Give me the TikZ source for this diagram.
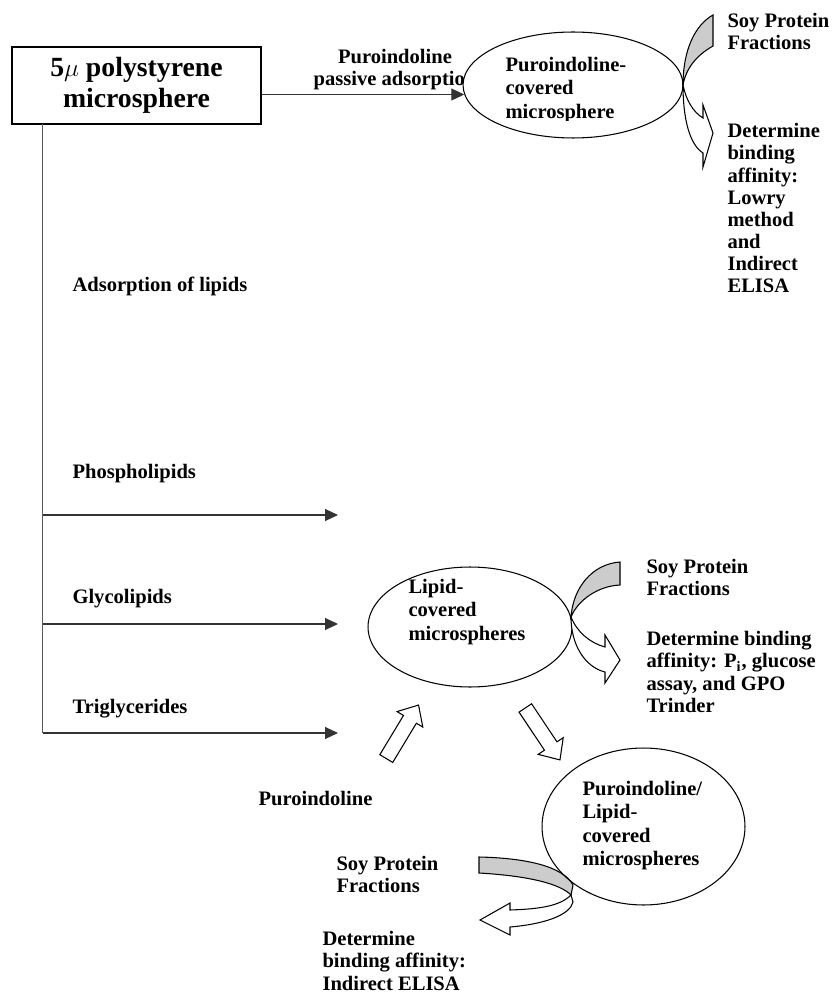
\documentclass[tikz,border=0pt]{standalone}
\usepackage{fontspec}
\setmainfont{Liberation Serif}
\usepackage{tikz}
\usetikzlibrary{shapes.geometric,shapes.arrows,arrows.meta}

\tikzset{
  startbox/.style={draw, line width=0.8pt, minimum width=4.98cm, minimum height=1.54cm,
    align=center, inner sep=0pt, font=\bfseries\fontsize{15.8}{17.5}\selectfont},
  lbl/.style={inner sep=0pt, align=left, font=\bfseries\fontsize{11.7}{12.6}\selectfont},
  etxt/.style={anchor=north west, inner sep=0pt, align=left, font=\bfseries\fontsize{11.7}{13.2}\selectfont},
  ell/.style={ellipse, draw, fill=white, inner sep=0pt},
  flow/.style={draw=black!80, -{Triangle[length=0.26cm,width=0.24cm]}},
  trunk/.style={draw=black!65, line width=0.8pt},
  blockarr/.style={single arrow, draw, fill=white, minimum height=1.25cm, inner sep=0.14cm,
    single arrow head extend=0.15cm, single arrow tip angle=84},
}

\begin{document}
\begin{tikzpicture}[x=0.02cm,y=-0.02cm, line width=0.6pt]
\useasboundingbox (0,0) rectangle (832,996);

\node[startbox] (box) at (136.5,85.5) {5$\mu$ polystyrene\\microsphere};
\node[lbl, anchor=north, align=center] (padsorb) at (395,49) {Puroindoline\\passive adsorption};
\node[ell, minimum width=4.4cm, minimum height=2.12cm] (pcov) at (573,85) {};
\begin{scope}
\clip (460,30) rectangle (690,121);
\node[etxt] (pcovtxt) at (505,57) {Puroindoline-\\covered\\microsphere};
\end{scope}
\draw[flow] (box.east |- pcov.185) -- (pcov.185);

% top right: soy protein fractions
\filldraw[fill=gray!40] (683,85) .. controls (683,50) and (695,25) .. (713,15) -- (713,46) .. controls (697,55) and (686,68) .. (683,85) -- cycle;
\filldraw[fill=white] (683,85) .. controls (686,100) and (693,112) .. (703,118) -- (703,105) -- (713,133) -- (703,167) -- (703,153) .. controls (690,145) and (683,120) .. (683,85) -- cycle;
\node[lbl, anchor=north west] (soy1) at (727,13) {Soy Protein\\Fractions};
\node[lbl, anchor=north west] (bind1) at (727,123) {Determine\\binding\\affinity:\\Lowry\\method\\and\\Indirect\\ELISA};

% lipids
\coordinate (tr0) at (42.5,124);
\coordinate (pho) at (338,515);
\coordinate (gly) at (338,624);
\coordinate (tri) at (338,733);
\draw[trunk] (tr0) -- (tr0 |- tri);
\foreach \c in {pho,gly,tri}
  \draw[flow] (tr0 |- \c) -- (\c);
\node[lbl, anchor=base west] (adslip) at (72,292) {Adsorption of lipids};
\node[lbl, anchor=base west] (phos) at (72,478) {Phospholipids};
\node[lbl, anchor=base west] (glyc) at (72,603) {Glycolipids};
\node[lbl, anchor=base west] (trig) at (72,713) {Triglycerides};

\node[ell, minimum width=4.08cm, minimum height=2.4cm] (lcov) at (470,627) {};
\node[etxt] (lcovtxt) at (408,579) {Lipid-\\covered\\microspheres};

\filldraw[fill=gray!40] (571,617) .. controls (573,588) and (592,564) .. (620,562) -- (620,585) .. controls (598,586) and (578,600) .. (571,617) -- cycle;
\filldraw[fill=white] (571,617) .. controls (577,632) and (590,643) .. (605,647) -- (605,635) -- (620,660) -- (605,683) -- (605,672) .. controls (585,667) and (571,645) .. (571,617) -- cycle;
\node[lbl, anchor=north west] (soy2) at (646,559) {Soy Protein\\Fractions};
\node[lbl, anchor=north west] (bind2) at (646,631) {Determine binding\\affinity: P\textsubscript{i}, glucose\\assay, and GPO\\Trinder};

\node[blockarr, rotate=58.9, anchor=tail] (upin) at (386,759) {};
\node[blockarr, rotate=-56.3, anchor=tail] (downout) at (525,707.5) {};
\node[lbl, anchor=base west] (puro) at (258,805) {Puroindoline};

% bottom: soy protein fractions
\filldraw[fill=gray!40] (479,857) .. controls (525,858) and (563,866) .. (573,885) -- (571,895) .. controls (560,884) and (530,876) .. (479,873) -- cycle;
\filldraw[fill=white] (571,895) .. controls (560,906) and (540,909) .. (510,910) -- (510,903) -- (480,920) -- (510,935) -- (510,927) .. controls (545,924) and (570,915) .. (573,902) -- cycle;
\node[ell, fill=none, minimum width=4.06cm, minimum height=3.14cm] (plcov) at (643.5,826.5) {};
\node[etxt] (plcovtxt) at (582,781) {Puroindoline/\\Lipid-\\covered\\microspheres};
\node[lbl, anchor=north west] (soy3) at (336,856) {Soy Protein\\Fractions};
\node[lbl, anchor=north west] (bind3) at (322,931) {Determine\\binding affinity:\\Indirect ELISA};
\end{tikzpicture}
\end{document}
